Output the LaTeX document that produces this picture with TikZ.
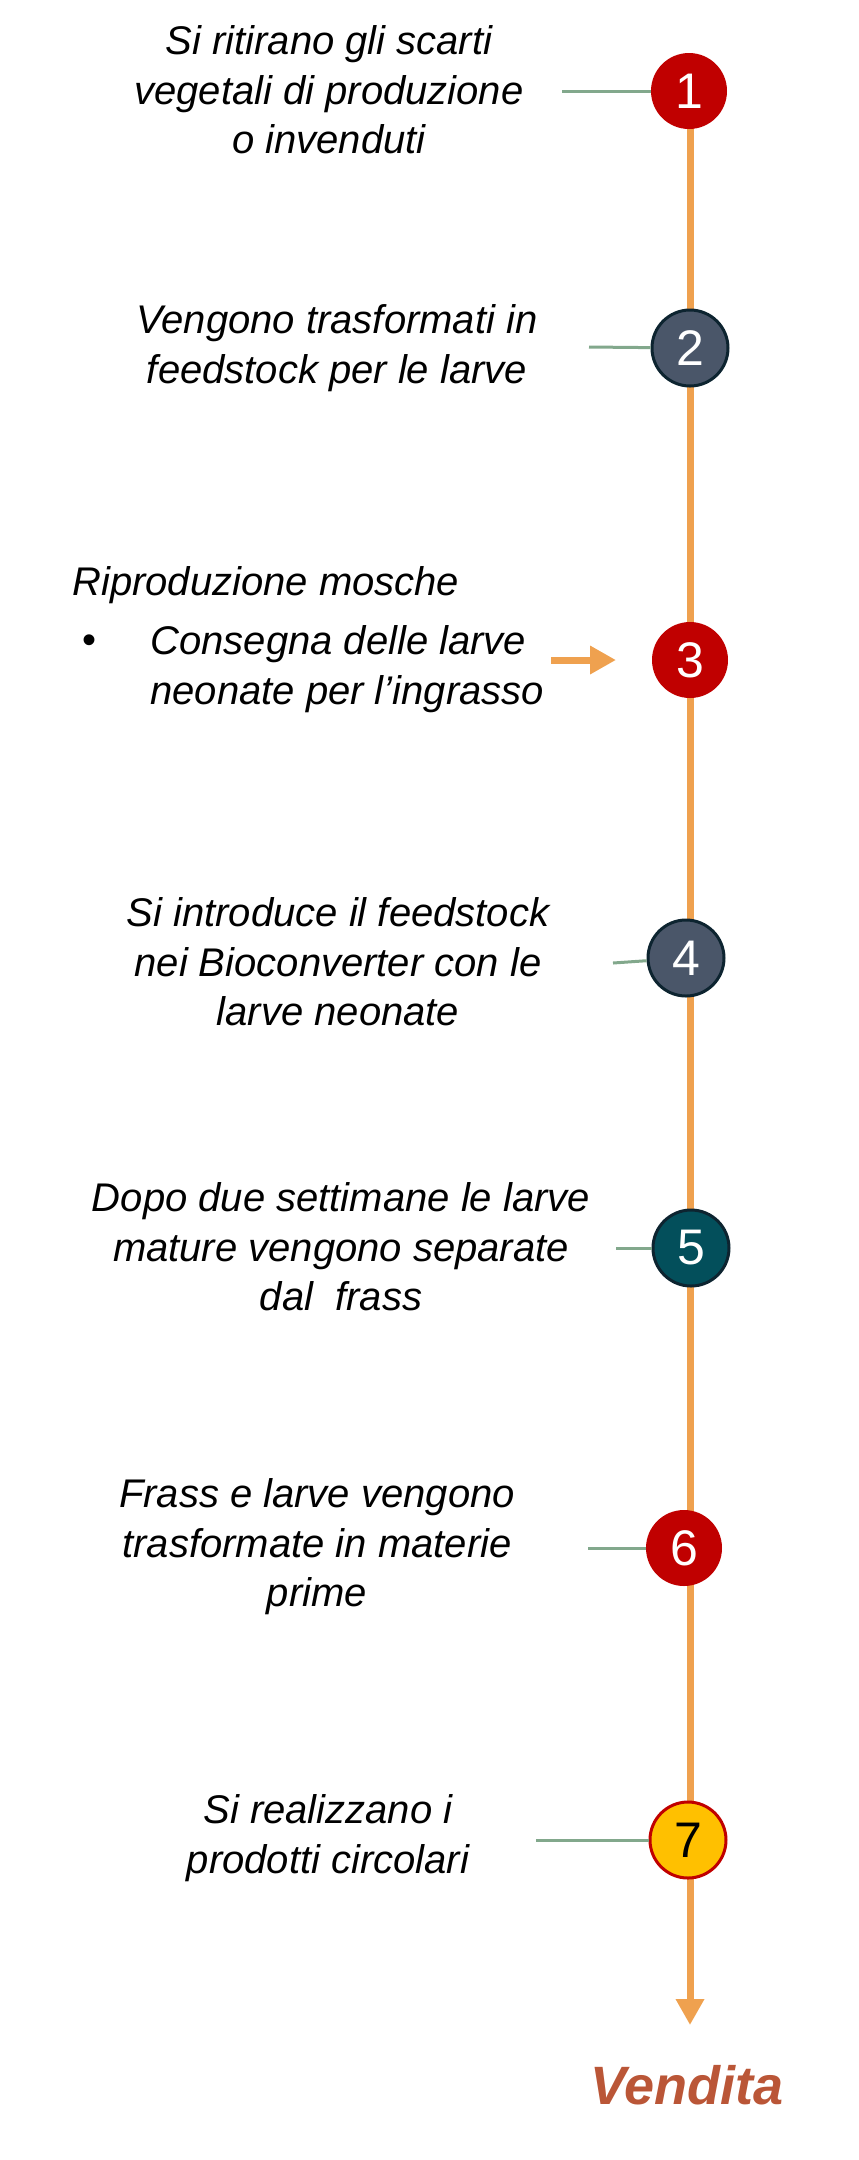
\documentclass[tikz,border=0pt]{standalone}
\usepackage{fontspec}
\setmainfont{Liberation Sans}
\usetikzlibrary{arrows.meta,backgrounds}

\definecolor{stepred}{HTML}{C00000}
\definecolor{stepslate}{HTML}{4A5669}
\definecolor{stepteal}{HTML}{034F5B}
\definecolor{stepdark}{HTML}{0D2430}
\definecolor{stepyellow}{HTML}{FFC000}
\definecolor{spineorange}{HTML}{EFA14F}
\definecolor{linkgreen}{HTML}{82A88C}
\definecolor{sellred}{HTML}{BA5637}

\tikzset{
  stepnum/.style={circle,minimum size=38pt,inner sep=0pt,text=white,
    font=\fontsize{25}{25}\selectfont},
  ringed/.style={draw=stepdark,line width=1.5pt},
  steptext/.style={align=center,inner sep=0pt,
    font=\fontsize{20}{24.8}\selectfont\itshape},
  link/.style={draw=linkgreen,line width=1.5pt},
  spine/.style={draw=spineorange,line width=3.5pt},
  spinetip/.style={-{Triangle[width=13.5pt,length=13pt]}}
}

\begin{document}
\begin{tikzpicture}[x=0.5pt,y=-0.5pt]
\useasboundingbox (0,0) rectangle (858,2160);
% numbered steps
\node[stepnum,fill=stepred] (n1) at (689,91) {1};
\node[stepnum,fill=stepslate,ringed] (n2) at (690,348) {2};
\node[stepnum,fill=stepred] (n3) at (690,660) {3};
\node[stepnum,fill=stepslate,ringed] (n4) at (686,958) {4};
\node[stepnum,fill=stepteal,ringed] (n5) at (691,1248) {5};
\node[stepnum,fill=stepred] (n6) at (684,1548) {6};
\node[stepnum,fill=stepyellow,ringed,draw=stepred,text=black] (n7) at (688,1840) {7};
\coordinate (top) at (690,91);
\coordinate (tip) at (690,2025);
\begin{scope}[on background layer]
\draw[spine,spinetip] (top) -- (tip);
\end{scope}
\node[font=\fontsize{27}{27}\selectfont\bfseries\itshape,text=sellred] (sell) at (687,2085) {Vendita};
% descriptions
\node[steptext] (t1) at (329,90) {Si ritirano gli scarti\\vegetali di produzione\\o invenduti};
\coordinate (c1) at (562,91);
\draw[link] (c1) -- (n1);
\node[steptext] (t2) at (337,348) {Vengono trasformati in\\feedstock per le larve};
\coordinate (c2) at (589,347);
\draw[link] (c2) -- (n2);
\node[steptext,anchor=west,align=left] (t3a) at (72,585) {Riproduzione mosche};
\node[font=\fontsize{20}{24}\selectfont] (b3) at (90,644) {\textbullet};
\node[steptext,anchor=west,align=left] (t3b) at (150,669) {Consegna delle larve\\neonate per l’ingrasso};
\coordinate (a3) at (551,660);
\coordinate (e3) at (616,660);
\draw[spine,spinetip] (a3) -- (e3);
\node[steptext] (t4) at (338,962) {Si introduce il feedstock\\nei Bioconverter con le\\larve neonate};
\coordinate (c4) at (613,963);
\draw[link] (c4) -- (n4);
\node[steptext] (t5) at (341,1247) {Dopo due settimane le larve\\mature vengono separate\\dal\ \ frass};
\coordinate (c5) at (616,1248);
\draw[link] (c5) -- (n5);
\node[steptext] (t6) at (317,1547) {Frass e larve vengono\\trasformate in materie\\prime};
\coordinate (c6) at (588,1548);
\draw[link] (c6) -- (n6);
\node[steptext] (t7) at (328,1838) {Si realizzano i\\prodotti circolari};
\coordinate (c7) at (536,1840);
\draw[link] (c7) -- (n7);
\end{tikzpicture}
\end{document}
